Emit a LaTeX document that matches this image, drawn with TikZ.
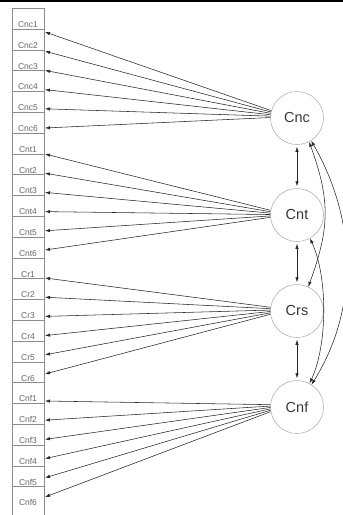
\documentclass[tikz,border=0pt]{standalone}
\usepackage{fontspec}
\setmainfont{Liberation Sans}
\usetikzlibrary{arrows.meta,calc}
\begin{document}
\begin{tikzpicture}[x=1pt,y=1pt,
  lbl/.style={font=\fontsize{8.5}{10}\selectfont, text=black!60, inner sep=0pt, anchor=base},
  cellline/.style={draw=black!45, line width=0.5pt},
  latent/.style={circle, draw=black!35, line width=0.5pt, minimum size=53pt, inner sep=0pt, font=\fontsize{14.5}{16}\selectfont, text=black!78},
  ld/.style={draw=black!85, line width=0.55pt, -{Latex[length=5pt,width=3.4pt]}},
  cov/.style={draw=black!85, line width=0.55pt, {Latex[length=5pt,width=3.4pt]}-{Latex[length=5pt,width=3.4pt]}}
]
\useasboundingbox (0,0) rectangle (343,-515);
\fill[black] (0,0) rectangle (343,-1.6);
% indicator column
\draw[cellline] (12,-516) |- (44,-8) -- (44,-516);
\foreach \k in {1,...,23} {
  \draw[cellline] (12,{-(8.3+20.8*\k)}) -- (44,{-(8.3+20.8*\k)});
}
\foreach \name [count=\k] in {Cnc1,Cnc2,Cnc3,Cnc4,Cnc5,Cnc6,Cnt1,Cnt2,Cnt3,Cnt4,Cnt5,Cnt6,Cr1,Cr2,Cr3,Cr4,Cr5,Cr6,Cnf1,Cnf2,Cnf3,Cnf4,Cnf5,Cnf6} {
  \node[lbl] (L\k) at (28,{-(8.3+20.8*\k)+1.6}) {\name};
}
% latent variables
\node[latent] (cnc) at (297,-118) {Cnc};
\node[latent] (cnt) at (297,-215) {Cnt};
\node[latent] (crs) at (297,-311) {Crs};
\node[latent] (cnf) at (297,-407) {Cnf};
% loadings
\foreach \lat/\g/\base/\ang in {cnc/0/32/164,cnt/1/154/170,crs/2/278/172,cnf/3/401/175} {
  \foreach \j in {0,...,5} {
    \coordinate (T\g\j) at (45,{-(\base+19.2*\j)});
    \pgfmathsetmacro\a{\ang+3.2*\j}
    \draw[ld] (\lat.\a) -- (T\g\j);
  }
}
% covariances
\draw[cov, shorten <=2pt, shorten >=2pt] (cnc.south) -- (cnt.north);
\draw[cov, shorten <=2pt, shorten >=2pt] (cnt.south) -- (crs.north);
\draw[cov, shorten <=2pt, shorten >=2pt] (crs.south) -- (cnf.north);
\draw[cov] (cnc.-63) to[out=-70,in=70,looseness=1.1] (crs.65);
\draw[cov] (cnt.-61) to[out=-65,in=65,looseness=0.75] (cnf.62);
\draw[cov] (cnc.-58) to[out=-60,in=58,looseness=0.95] (cnf.57);
\end{tikzpicture}
\end{document}
